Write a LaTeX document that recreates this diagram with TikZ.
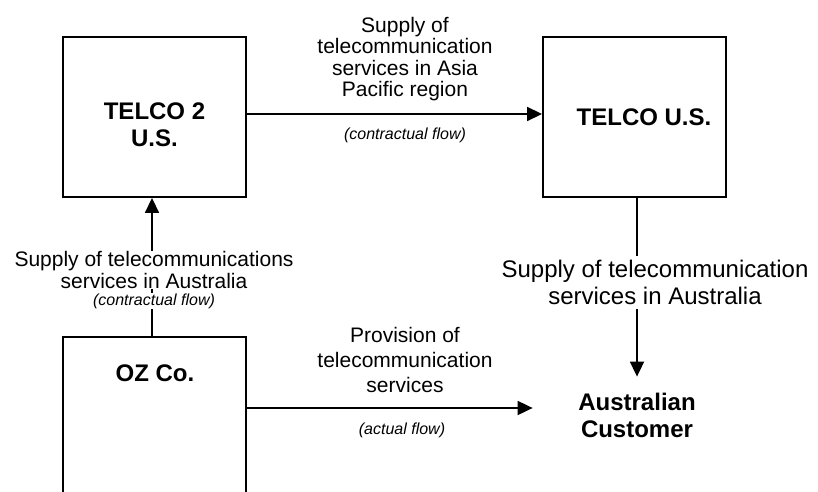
\documentclass[tikz,border=0pt]{standalone}
\usepackage{fontspec}
\setmainfont{Liberation Sans}
\usetikzlibrary{arrows.meta}
\begin{document}
\begin{tikzpicture}[x=1pt,y=1pt,
  box/.style={draw, line width=1.9pt, minimum width=183pt, minimum height=160pt, inner sep=0pt},
  flow/.style={line width=1.8pt, -{Triangle[length=15pt,width=14pt]}},
  lab/.style={align=center, font=\fontsize{21}{21.5}\selectfont, inner sep=1pt},
  note/.style={font=\fontsize{16}{18}\selectfont\itshape, inner sep=1pt},
  boxtext/.style={align=center, font=\fontsize{24}{27}\selectfont\bfseries, inner sep=0pt}]
\useasboundingbox (0,0) rectangle (818,491);
\clip (0,0) rectangle (818,491);
% boxes
\node[box] (telco2) at (154.5,374) {};
\node[box] (telcous) at (634.5,374) {};
\node[box, minimum height=180pt] (oz) at (154.5,64) {};
% box texts
\node[boxtext] (t2text) at (154.5,366.5) {TELCO 2\\U.S.};
\node[boxtext] (ustext) at (644,374) {TELCO U.S.};
\node[boxtext] (oztext) at (155,118) {OZ Co.};
\node[boxtext] (cust) at (637,75.5) {Australian\\Customer};
% connectors
\draw[flow] ([yshift=3pt]telco2.east) -- ([yshift=3pt]telcous.west);
\draw[flow] ([xshift=-2.5pt]oz.north) -- ([xshift=-2.5pt]telco2.south);
\draw[flow] ([xshift=2.5pt]telcous.south) -- ([yshift=16.4pt]cust.north);
\draw[flow] ([yshift=7.5pt]oz.east |- cust.west) -- ([shift={(-45.5pt,7.5pt)}]cust.west);
% labels
\node[lab] (toplab) at (405,432) {Supply of\\telecommunication\\services in Asia\\Pacific region};
\node[note] (topnote) at (405,356) {(contractual flow)};
\node[lab, fill=white] (leftlab) at (154,221) {Supply of telecommunications\\services in Australia};
\node[note, fill=white] (leftnote) at (154,190) {(contractual flow)};
\node[align=center, font=\fontsize{24}{27}\selectfont, fill=white, inner sep=4pt] (rightlab) at (655,208.3) {Supply of telecommunication\\services in Australia};
\node[lab, font=\fontsize{21}{25}\selectfont] (botlab) at (405,131.3) {Provision of\\telecommunication\\services};
\node[note] (botnote) at (402,61) {(actual flow)};
\end{tikzpicture}
\end{document}
